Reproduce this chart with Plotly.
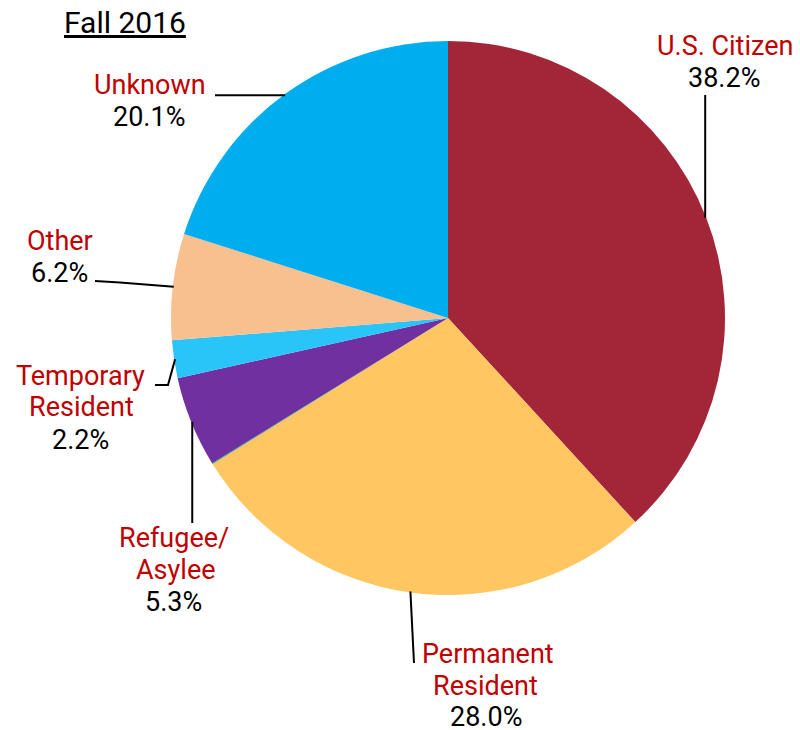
import math
import plotly.graph_objects as go

# ---- data ----
categories = ["U.S. Citizen", "Permanent Resident", "", "Refugee/Asylee",
              "Temporary Resident", "Other", "Unknown"]
values = [38.2, 28.0, 0.05, 5.3, 2.2, 6.2, 20.1]
label_lines = [["U.S. Citizen"], ["Permanent", "Resident"], None, ["Refugee/", "Asylee"],
               ["Temporary", "Resident"], ["Other"], ["Unknown"]]
pct_labels = ["38.2%", "28.0%", None, "5.3%", "2.2%", "6.2%", "20.1%"]
colors = ["#A32638", "#FFC662", "#00A99D", "#7030A0", "#29C4F8", "#F8C08F", "#00AEEF"]

# ---- layout geometry (window pixels; page body has an 8px margin) ----
OFF = 8
W, H = 800 - OFF, 730 - OFF
cx, cy, R = 448, 318, 277
RED = "#C00000"
FONT = "Roboto"
FS = 27

# per slice: list of (x, y) centres for each text line (name lines then pct)
line_pos = [
    [(725, 46), (724, 78)],
    [(488, 654), (486, 686), (486, 717)],
    None,
    [(174, 538), (176, 570), (173, 602)],
    [(80, 376), (81, 407), (80, 440)],
    [(60, 241), (59, 273)],
    [(150, 85), (149, 117)],
]
# leader-line bends after the rim point (None = keep rim coordinate)
leader_pts = [[(None, 95)], [(414, 663)], None, [(None, 523)],
              [(168, 385), (155, 385)], [(120, 282.5), (95, 281)], [(215, None)]]


def px(x):
    return (x - OFF) / W


def py(y):
    return 1 - (y - OFF) / H


fig = go.Figure(go.Pie(
    labels=[c if c else " " for c in categories],
    values=values,
    sort=False,
    direction="clockwise",
    rotation=0,
    marker=dict(colors=colors, line=dict(width=0)),
    textinfo="none",
    hoverinfo="label+percent",
    showlegend=False,
    domain=dict(x=[px(cx - R), px(cx + R)], y=[py(cy + R), py(cy - R)]),
))

total = sum(values)
cum = 0.0
shapes = []
annotations = []
for i, v in enumerate(values):
    mid = (cum + v / 2) / total * 2 * math.pi
    cum += v
    if label_lines[i] is None:
        continue
    ex = cx + (R - 1) * math.sin(mid)
    ey = cy - (R - 1) * math.cos(mid)
    pts = [(ex, ey)]
    for (bx, by) in leader_pts[i]:
        pts.append((ex if bx is None else bx, ey if by is None else by))
    path = "M " + " L ".join(f"{px(x):.5f},{py(y):.5f}" for x, y in pts)
    shapes.append(dict(type="path", path=path, xref="paper", yref="paper",
                       line=dict(color="black", width=2)))
    texts = label_lines[i] + [pct_labels[i]]
    tcolors = [RED] * len(label_lines[i]) + ["black"]
    for (lx, ly), t, c in zip(line_pos[i], texts, tcolors):
        annotations.append(dict(
            x=px(lx), y=py(ly), xref="paper", yref="paper",
            xanchor="center", yanchor="middle", showarrow=False,
            text=t, font=dict(family=FONT, size=FS, color=c),
        ))

annotations.append(dict(
    x=px(62), y=py(22), xref="paper", yref="paper", xanchor="left", yanchor="middle",
    showarrow=False, text="<u>Fall 2016</u>",
    font=dict(family=FONT, size=30, color="black"),
))

fig.update_layout(
    width=W, height=H,
    margin=dict(l=0, r=0, t=0, b=0),
    paper_bgcolor="white", plot_bgcolor="white",
    shapes=shapes, annotations=annotations,
)

fig.write_html("out.html")
